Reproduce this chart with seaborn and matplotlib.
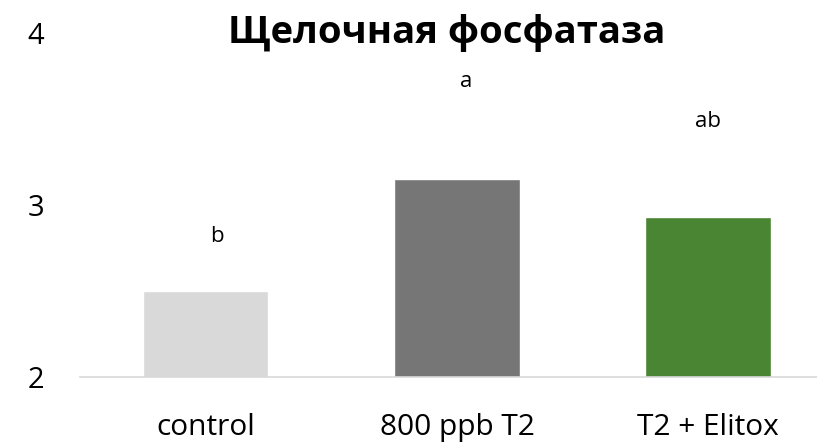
import pandas as pd
import matplotlib
matplotlib.use("Agg")
import matplotlib.pyplot as plt
import seaborn as sns

# data
groups = ["control", "800 ppb T2", "T2 + Elitox"]
values = [2.50, 3.15, 2.93]
letters = ["b", "a", "ab"]
letter_y = [2.785, 3.686, 3.453]
colors = ["#D9D9D9", "#767676", "#4A8533"]

sns.set_theme(style="white")
plt.rcParams["font.family"] = ["Open Sans", "DejaVu Sans"]
plt.rcParams["text.color"] = "black"

df = pd.DataFrame({"group": groups, "value": values})

fig = plt.figure(figsize=(8.17, 4.42), dpi=100)
ax = fig.add_axes([80 / 817, 65 / 442, 754 / 817, 344 / 442])

sns.barplot(data=df, x="group", y="value", hue="group", palette=colors,
            width=0.5, legend=False, ax=ax, saturation=1)

ax.set_ylim(2, 4)
ax.set_xlim(-0.5, 2.5)
ax.set_yticks([2, 3, 4])
ax.set_xlabel("")
ax.set_ylabel("")
for s in ["left", "right", "top"]:
    ax.spines[s].set_visible(False)
ax.spines["bottom"].set_color("#D9D9D9")
ax.spines["bottom"].set_linewidth(1.2)
ax.tick_params(axis="y", length=0, pad=26, labelsize=21, labelcolor="black")
ax.tick_params(axis="x", length=0, pad=26, labelsize=21.5, labelcolor="black")

# significance letters
offsets = [0.046, 0.038, 0.0]
for i, (lab, y) in enumerate(zip(letters, letter_y)):
    ax.text(i + offsets[i], y, lab, ha="center", va="baseline", fontsize=16,
            color="black")

fig.text(447 / 817, 1 - 43 / 442, "Щелочная фосфатаза", ha="center",
         va="baseline", fontsize=27.5, fontweight="bold", color="black")

fig.savefig("out.png", dpi=100)
